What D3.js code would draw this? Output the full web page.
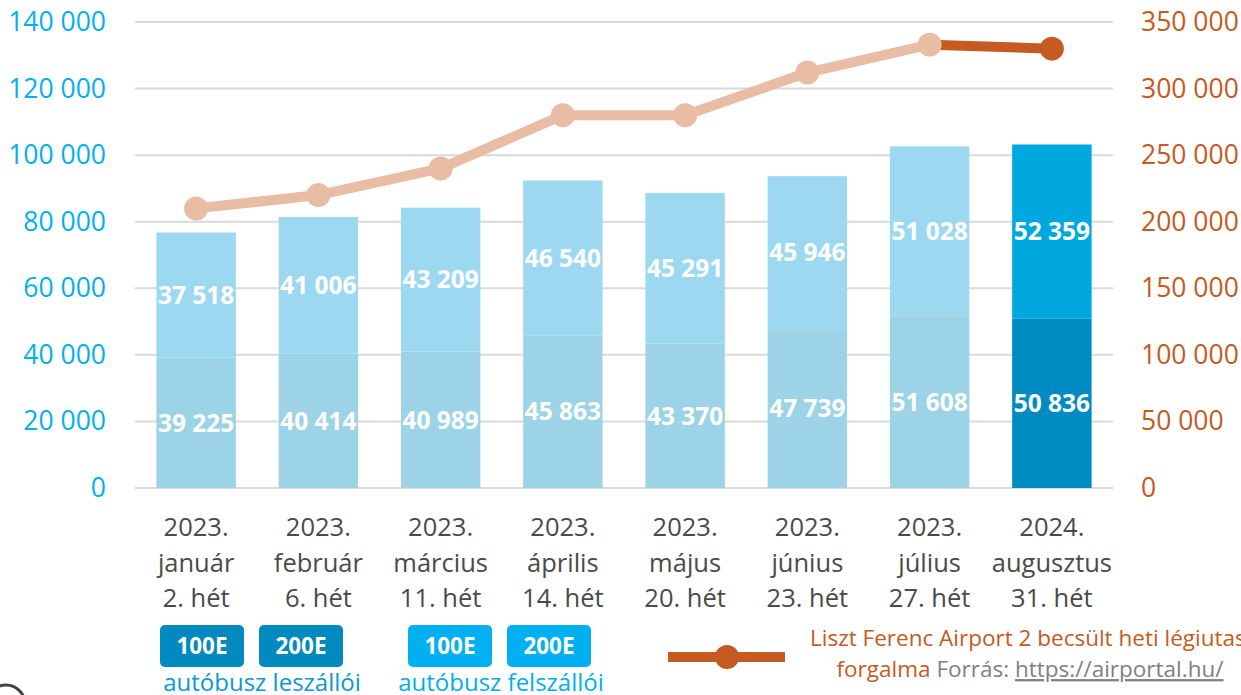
<!DOCTYPE html>
<html>
<head>
<meta charset="utf-8">
<script src="https://cdn.jsdelivr.net/npm/d3@7"></script>
<style>
  html, body { margin: 0; padding: 0; background: #fff; overflow: hidden; }
  svg { display: block; font-family: "Open Sans", "Noto Sans", sans-serif; }
</style>
</head>
<body>
<svg id="chart" width="1241" height="695"></svg>
<script>
// ---- data ----
const categories = [
  ["2023.", "január", "2. hét"],
  ["2023.", "február", "6. hét"],
  ["2023.", "március", "11. hét"],
  ["2023.", "április", "14. hét"],
  ["2023.", "május", "20. hét"],
  ["2023.", "június", "23. hét"],
  ["2023.", "július", "27. hét"],
  ["2024.", "augusztus", "31. hét"]
];
const leszalloi = [39225, 40414, 40989, 45863, 43370, 47739, 51608, 50836];
const felszalloi = [37518, 41006, 43209, 46540, 45291, 45946, 51028, 52359];
const airport = [210000, 220000, 240000, 280000, 280000, 312000, 333000, 330000];
const leftTicks = [0, 20000, 40000, 60000, 80000, 100000, 120000, 140000];
const rightTicks = [0, 50000, 100000, 150000, 200000, 250000, 300000, 350000];

// ---- layout ----
const svg = d3.select("#chart");
const plotLeft = 135, plotRight = 1113, plotTop = 22, plotBottom = 488;
const keys = categories.map((c, i) => i);

const x = d3.scaleBand().domain(keys).range([plotLeft, plotRight])
  .paddingInner(0.35).paddingOuter(0.175);
const yL = d3.scaleLinear().domain([0, 140000]).range([plotBottom, plotTop]);
const yR = d3.scaleLinear().domain([0, 350000]).range([plotBottom, plotTop]);

const fmt = v => d3.format(",")(v).replace(/,/g, " ");

const colLowerLight = "#9cd3e6", colUpperLight = "#9cd9f1";
const colLowerDark = "#008cc3", colUpperDark = "#00a8e0";
const lineLight = "#e8bca5", lineDark = "#c55a22";

// gridlines
svg.append("g").selectAll("line").data(leftTicks).join("line")
  .attr("x1", plotLeft).attr("x2", plotRight)
  .attr("y1", d => yL(d)).attr("y2", d => yL(d))
  .attr("stroke", "#dadada").attr("stroke-width", 2);

// left axis labels
const axL = svg.append("g").attr("transform", `translate(106,0)`)
  .call(d3.axisLeft(yL).tickValues(leftTicks).tickFormat(fmt).tickSize(0).tickPadding(0));
axL.select(".domain").remove();
axL.selectAll("text").attr("fill", "#00b0f0").style("font-size", "26.5px")
  .style("font-family", "'Open Sans', sans-serif");

// right axis labels
const axR = svg.append("g").attr("transform", `translate(1141,0)`)
  .call(d3.axisRight(yR).tickValues(rightTicks).tickFormat(fmt).tickSize(0).tickPadding(0));
axR.select(".domain").remove();
axR.selectAll("text").attr("fill", "#c55a22").style("font-size", "26.5px")
  .style("font-family", "'Open Sans', sans-serif");

// bars
const bars = svg.append("g");
keys.forEach(i => {
  const last = i === keys.length - 1;
  const lo = leszalloi[i], up = felszalloi[i];
  bars.append("rect")
    .attr("x", x(i)).attr("width", x.bandwidth())
    .attr("y", yL(lo)).attr("height", yL(0) - yL(lo))
    .attr("fill", last ? colLowerDark : colLowerLight);
  bars.append("rect")
    .attr("x", x(i)).attr("width", x.bandwidth())
    .attr("y", yL(lo + up)).attr("height", yL(lo) - yL(lo + up))
    .attr("fill", last ? colUpperDark : colUpperLight);
  // labels
  bars.append("text")
    .attr("x", x(i) + x.bandwidth() / 2)
    .attr("y", (yL(0) + yL(lo)) / 2).attr("dy", "0.36em")
    .attr("text-anchor", "middle").attr("fill", "#fff")
    .style("font-size", "24.5px").style("font-weight", "700")
    .text(fmt(lo));
  bars.append("text")
    .attr("x", x(i) + x.bandwidth() / 2)
    .attr("y", (yL(lo) + yL(lo + up)) / 2).attr("dy", "0.36em")
    .attr("text-anchor", "middle").attr("fill", "#fff")
    .style("font-size", "24.5px").style("font-weight", "700")
    .text(fmt(up));
});

// x labels
const xl = svg.append("g");
keys.forEach(i => {
  const t = xl.append("text")
    .attr("text-anchor", "middle").attr("fill", "#4a4a4a")
    .style("font-size", "25.5px");
  categories[i].forEach((line, j) => {
    t.append("tspan").attr("x", x(i) + x.bandwidth() / 2)
      .attr("y", 536 + j * 35.5).text(line);
  });
});

// line
const cx = i => x(i) + x.bandwidth() / 2;
const n = airport.length;
const lineGen = d3.line().x(d => cx(d.i)).y(d => yR(d.v));
const pts = airport.map((v, i) => ({ i, v }));
svg.append("path").datum(pts.slice(0, n - 1)).attr("d", lineGen)
  .attr("fill", "none").attr("stroke", lineLight).attr("stroke-width", 10)
  .attr("stroke-linejoin", "round");
svg.append("path").datum(pts.slice(n - 2)).attr("d", lineGen)
  .attr("fill", "none").attr("stroke", lineDark).attr("stroke-width", 10);
svg.append("g").selectAll("circle").data(pts).join("circle")
  .attr("cx", d => cx(d.i)).attr("cy", d => yR(d.v)).attr("r", 12)
  .attr("fill", d => d.i === n - 1 ? lineDark : lineLight);

// legend: boxes
const legendBoxes = [
  { x: 160, label: "100E", fill: "#008ac0" },
  { x: 259, label: "200E", fill: "#008ac0" },
  { x: 408, label: "100E", fill: "#00b0f0" },
  { x: 507, label: "200E", fill: "#00b0f0" }
];
const lg = svg.append("g");
legendBoxes.forEach(b => {
  lg.append("rect").attr("x", b.x).attr("y", 625).attr("width", 84).attr("height", 42)
    .attr("rx", 5).attr("fill", b.fill);
  lg.append("text").attr("x", b.x + 42).attr("y", 646).attr("dy", "0.36em")
    .attr("text-anchor", "middle").attr("fill", "#fff")
    .style("font-size", "22.5px").style("font-weight", "700").text(b.label);
});
lg.append("text").attr("x", 262).attr("y", 682).attr("dy", "0.36em")
  .attr("text-anchor", "middle").attr("fill", "#0b98d3").style("font-size", "24px")
  .text("autóbusz leszállói");
lg.append("text").attr("x", 501).attr("y", 682).attr("dy", "0.36em")
  .attr("text-anchor", "middle").attr("fill", "#00aeef").style("font-size", "24px")
  .text("autóbusz felszállói");

// legend: line
lg.append("line").attr("x1", 668).attr("x2", 785).attr("y1", 657).attr("y2", 657)
  .attr("stroke", lineDark).attr("stroke-width", 10);
lg.append("circle").attr("cx", 727).attr("cy", 657).attr("r", 12).attr("fill", lineDark);
lg.append("text").attr("x", 810).attr("y", 638).attr("dy", "0.36em")
  .attr("fill", lineDark).style("font-size", "22.5px")
  .text("Liszt Ferenc Airport 2 becsült heti légiutas");
const l2 = lg.append("text").attr("x", 1030).attr("y", 669).attr("dy", "0.36em")
  .attr("text-anchor", "middle").style("font-size", "22.5px");
l2.append("tspan").attr("fill", lineDark).text("forgalma ");
l2.append("tspan").attr("fill", "#7f7f7f").text("Forrás: ");
l2.append("tspan").attr("fill", "#7f7f7f").style("text-decoration", "underline")
  .text("https://airportal.hu/");

// partial logo circle at bottom-left
svg.append("circle").attr("cx", 6).attr("cy", 704).attr("r", 19)
  .attr("fill", "none").attr("stroke", "#444").attr("stroke-width", 3);
</script>
</body>
</html>
